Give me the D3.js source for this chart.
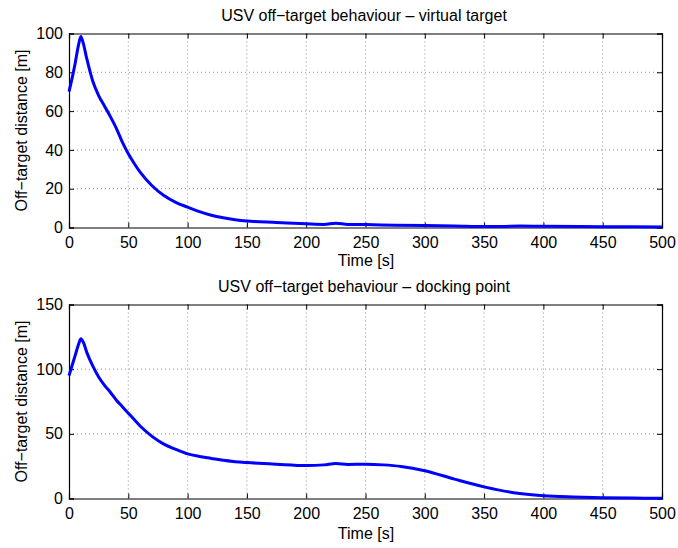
<!DOCTYPE html>
<html><head><meta charset="utf-8">
<script src="https://cdn.jsdelivr.net/npm/d3@7"></script>
<style>body{margin:0;background:#fff}svg{display:block;font-family:"Liberation Sans",Arial,Helvetica,sans-serif}</style>
</head><body><svg id="c" width="678" height="548"></svg>
<script>
const xTicks = [0,50,100,150,200,250,300,350,400,450,500];
const topTitle = "USV off\u2212target behaviour \u2013 virtual target";
const botTitle = "USV off\u2212target behaviour \u2013 docking point";
const yLabel = "Off\u2212target distance [m]";
const xLabel = "Time [s]";
const topYTicks = [0,20,40,60,80,100];
const botYTicks = [0,50,100,150];
const topTime = [0,3,5,8,10,12,15,20,25,30,35,40,45,50,55,60,70,80,90,100,110,120,130,140,150,175,200,215,225,235,250,275,300,325,350,365,380,400,450,500];
const topDist = [70,78,84,94,98.5,95,87,75.5,68,62.5,57,51,44,38,33,28.5,21.5,16.5,13,10.5,8.2,6.3,5,4,3.3,2.6,1.9,1.6,2.2,1.6,1.5,1.2,1.0,0.8,0.5,0.5,0.8,0.6,0.4,0.3];
const botTime = [0,3,5,8,10,12,15,20,25,30,35,40,45,50,55,60,70,80,90,100,110,120,130,140,150,175,200,215,225,235,250,265,280,300,325,350,375,400,425,450,475,500];
const botDist = [95,104,110,119,123.5,121,113,102.5,94,87.5,82,76,71,66,61,56,48,42,38,34.5,32.5,31,29.5,28.5,27.8,26.5,25.5,26,27,26.3,26.5,26,24.8,21.5,15,9,4.5,2.2,1.2,0.6,0.3,0.2];

const svg = d3.select("#c");
function panel(y0, y1, yMax, yTicks, time, dist, title, xlOff){
  const x = d3.scaleLinear().domain([0,500]).range([69,662]);
  const y = d3.scaleLinear().domain([0,yMax]).range([y1,y0]);
  const g = svg.append("g");
  // grid
  g.append("g").selectAll("line").data(xTicks.slice(1,-1)).join("line")
    .attr("x1",d=>x(d)).attr("x2",d=>x(d)).attr("y1",y0).attr("y2",y1)
    .attr("stroke","#444").attr("stroke-width",0.6).attr("stroke-dasharray","1,3");
  g.append("g").selectAll("line").data(yTicks.slice(1,-1)).join("line")
    .attr("x1",69).attr("x2",662).attr("y1",d=>y(d)).attr("y2",d=>y(d))
    .attr("stroke","#444").attr("stroke-width",0.6).attr("stroke-dasharray","1,3");
  // axes
  const ax = g.append("g").attr("transform",`translate(0,${y1})`)
    .call(d3.axisBottom(x).tickValues(xTicks).tickSize(-5).tickPadding(9.5));
  const axT = g.append("g").attr("transform",`translate(0,${y0})`)
    .call(d3.axisTop(x).tickValues(xTicks).tickSize(-5).tickFormat(""));
  const ay = g.append("g").attr("transform","translate(69,0)")
    .call(d3.axisLeft(y).tickValues(yTicks).tickSize(-5).tickPadding(6));
  const ayR = g.append("g").attr("transform","translate(662,0)")
    .call(d3.axisRight(y).tickValues(yTicks).tickSize(-5).tickFormat(""));
  [ax,axT,ay,ayR].forEach(a=>{
    a.selectAll("path").attr("stroke","#000").attr("stroke-width",1.2);
    a.selectAll("line").attr("stroke","#000");
    a.selectAll("text").attr("fill","#000").attr("font-size",16).attr("font-family","Liberation Sans, Arial, sans-serif");
  });
  // line
  const line = d3.line().x(d=>x(d[0])).y(d=>y(d[1])).curve(d3.curveMonotoneX);
  g.append("path").datum(time.map((t,i)=>[t,dist[i]]))
    .attr("d",line).attr("fill","none").attr("stroke","#0000ff").attr("stroke-width",3)
    .attr("stroke-linejoin","round");
  // titles
  g.append("text").attr("x",364).attr("y",y0-13).attr("text-anchor","middle")
    .attr("font-size",16).text(title);
  g.append("text").attr("x",366).attr("y",y1+xlOff).attr("text-anchor","middle")
    .attr("font-size",16).text(xLabel);
  g.append("text").attr("transform",`translate(21,${(y0+y1)/2}) rotate(-90)`).attr("text-anchor","middle")
    .attr("dy","0.35em").attr("font-size",16).text(yLabel);
}
panel(33.5, 227.5, 100, topYTicks, topTime, topDist, topTitle, 38);
panel(304.5, 498.5, 150, botYTicks, botTime, botDist, botTitle, 40.5);
</script></body></html>
